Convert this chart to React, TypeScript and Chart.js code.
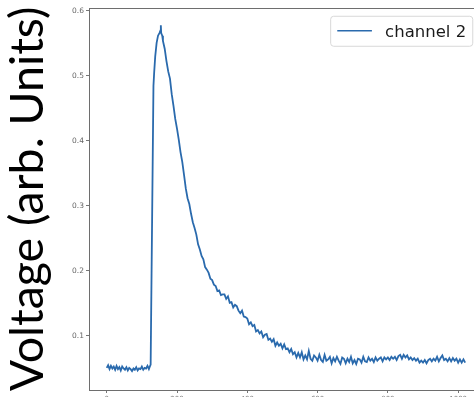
import { useEffect, useRef } from "react";
import { Chart, registerables } from "chart.js";

Chart.register(...registerables);

const seriesLabel = "channel 2";
const yAxisTitle = "Voltage (arb. Units)";
const xTicks = [0, 200, 400, 600, 800, 1000];
const yTicks = [0.1, 0.2, 0.3, 0.4, 0.5, 0.6];

const sampleIndex = [
  0, 4, 8, 12, 16, 20, 24, 28, 32, 36, 40, 44, 48, 52, 56, 60, 64, 68, 72, 76, 80, 84, 88, 92, 96, 100, 104, 108, 112, 116, 120, 122, 125,
  133, 135, 138, 142, 146, 150, 153, 154, 155, 158,
  160, 165, 170, 175, 180, 185, 190, 195, 200, 205, 210, 215, 220, 225, 230, 235, 240, 245, 250, 255, 260, 265, 270, 275, 280, 285, 290, 295, 300, 305, 310, 315, 320, 325, 330,
  335, 340, 345, 350, 355, 360, 365, 370, 375, 380, 385, 390, 395, 400, 405, 410, 415, 420, 425, 430, 435, 440, 445, 450, 455, 460, 465, 470, 475, 480, 485, 490, 495, 500, 505, 510, 515, 520, 525, 530, 535, 540,
  545, 550, 555, 560, 565, 570, 575, 580, 585, 590, 595, 600,
  605, 610, 615, 620, 625, 630, 635, 640, 645, 650, 655, 660, 665, 670, 675, 680, 685, 690, 695, 700,
  705, 710, 715, 720, 725, 730, 735, 740, 745, 750, 755, 760, 765, 770, 775, 780, 785, 790, 795, 800,
  805, 810, 815, 820, 825, 830, 835, 840, 845, 850, 855, 860, 865, 870, 875, 880, 885, 890, 895, 900,
  905, 910, 915, 920, 925, 930, 935, 940, 945, 950, 955, 960, 965, 970, 975, 980, 985, 990, 995, 1000,
  1005, 1010, 1015, 1020,
];

const voltage = [
  0.051, 0.055, 0.049, 0.054, 0.050, 0.053, 0.048, 0.054, 0.049, 0.052, 0.047, 0.053, 0.050, 0.048, 0.052, 0.047, 0.051, 0.049, 0.046, 0.050, 0.048, 0.052, 0.047, 0.050, 0.049, 0.053, 0.048, 0.051, 0.050, 0.054, 0.049, 0.052, 0.056,
  0.485, 0.505, 0.530, 0.551, 0.562, 0.566, 0.570, 0.578, 0.566, 0.562,
  0.554, 0.542, 0.523, 0.507, 0.496, 0.472, 0.454, 0.434, 0.419, 0.402, 0.383, 0.368, 0.348, 0.327, 0.312, 0.303, 0.288, 0.275, 0.266, 0.256, 0.241, 0.233, 0.223, 0.218, 0.206, 0.202, 0.197, 0.188, 0.186, 0.179, 0.177, 0.169, 0.170, 0.163, 0.164,
  0.164, 0.157, 0.161, 0.151, 0.152, 0.144, 0.148, 0.146, 0.139, 0.135, 0.139, 0.130, 0.129, 0.127, 0.118, 0.121, 0.115, 0.117, 0.107, 0.109, 0.104, 0.107, 0.098, 0.102, 0.103, 0.094, 0.096, 0.091, 0.095, 0.085, 0.090, 0.085, 0.088, 0.081, 0.087, 0.080, 0.081, 0.075, 0.080, 0.072, 0.075, 0.067,
  0.074, 0.067, 0.075, 0.064, 0.070, 0.064, 0.077, 0.065, 0.062, 0.070, 0.067, 0.062,
  0.071, 0.063, 0.060, 0.071, 0.062, 0.064, 0.068, 0.058, 0.066, 0.061, 0.068, 0.062, 0.057, 0.067, 0.065, 0.058, 0.065, 0.060, 0.068, 0.058,
  0.063, 0.057, 0.065, 0.064, 0.059, 0.068, 0.061, 0.060, 0.067, 0.062, 0.065, 0.060, 0.067, 0.062, 0.065, 0.067, 0.061, 0.067, 0.064, 0.067,
  0.063, 0.068, 0.065, 0.068, 0.063, 0.069, 0.071, 0.065, 0.071, 0.067, 0.070, 0.064, 0.067, 0.063, 0.066, 0.062, 0.065, 0.059, 0.062, 0.059,
  0.063, 0.058, 0.063, 0.065, 0.061, 0.065, 0.062, 0.068, 0.061, 0.066, 0.070, 0.063, 0.065, 0.061, 0.066, 0.061, 0.066, 0.062, 0.065, 0.059,
  0.064, 0.059, 0.064, 0.059,
];

const LINE_COLOR = "#2a6aad";
const CANVAS_W = 484;
const CANVAS_H = 410;

const frameLegendPlugin = {
  id: "frameLegend",
  afterDatasetsDraw(chart: any) {
    const { ctx, chartArea: a } = chart;
    ctx.save();
    ctx.strokeStyle = "#6e6e6e";
    ctx.lineWidth = 1;
    ctx.strokeRect(
      Math.round(a.left) + 0.5,
      Math.round(a.top) + 0.5,
      Math.round(a.right - a.left),
      Math.round(a.bottom - a.top)
    );

    const fs = 16.5;
    ctx.font = `${fs}px "DejaVu Sans"`;
    const label = chart.data.datasets[0].label as string;
    const tw = ctx.measureText(label).width;
    const pad = 0.4 * fs;
    const handle = 2.1 * fs;
    const gap = 0.8 * fs;
    const axpad = 0.5 * fs;
    const right = a.right - axpad;
    const top = a.top + axpad;
    const h = 30;
    const w = pad + handle + gap + tw + pad;
    const left = right - w;

    ctx.beginPath();
    const r = 3;
    ctx.moveTo(left + r, top);
    ctx.lineTo(left + w - r, top);
    ctx.arcTo(left + w, top, left + w, top + r, r);
    ctx.lineTo(left + w, top + h - r);
    ctx.arcTo(left + w, top + h, left + w - r, top + h, r);
    ctx.lineTo(left + r, top + h);
    ctx.arcTo(left, top + h, left, top + h - r, r);
    ctx.lineTo(left, top + r);
    ctx.arcTo(left, top, left + r, top, r);
    ctx.closePath();
    ctx.fillStyle = "rgba(255,255,255,0.85)";
    ctx.fill();
    ctx.strokeStyle = "#d8d8d8";
    ctx.stroke();

    ctx.beginPath();
    ctx.strokeStyle = LINE_COLOR;
    ctx.lineWidth = 1.5;
    ctx.moveTo(left + pad, top + 14.5);
    ctx.lineTo(left + pad + handle, top + 14.5);
    ctx.stroke();

    ctx.fillStyle = "#1a1a1a";
    ctx.textBaseline = "alphabetic";
    ctx.textAlign = "left";
    ctx.fillText(label, left + pad + handle + gap, top + 21);
    ctx.restore();
  },
};

export default function App() {
  const canvasRef = useRef<HTMLCanvasElement | null>(null);

  useEffect(() => {
    const canvas = canvasRef.current;
    if (!canvas) return;
    const points = sampleIndex.map((x, i) => ({ x, y: voltage[i] }));
    const chart = new Chart(canvas, {
      type: "line",
      data: {
        datasets: [
          {
            label: seriesLabel,
            data: points,
            borderColor: LINE_COLOR,
            borderWidth: 1.8,
            pointRadius: 0,
            tension: 0,
            fill: false,
          },
        ],
      },
      options: {
        animation: false,
        responsive: false,
        devicePixelRatio: 1,
        layout: { padding: { left: 0, right: 3, top: 8, bottom: 0 } },
        plugins: {
          legend: { display: false },
          tooltip: { enabled: false },
        },
        scales: {
          x: {
            type: "linear",
            min: -50.4,
            max: 1065,
            afterBuildTicks: (scale: any) => {
              scale.ticks = xTicks.map((v) => ({ value: v }));
            },
            afterFit: (scale: any) => {
              scale.height = 20;
            },
            border: { display: false },
            grid: {
              drawOnChartArea: false,
              drawTicks: true,
              tickLength: 3,
              color: "#777",
            },
            ticks: {
              autoSkip: false,
              maxRotation: 0,
              padding: 2,
              color: "#777",
              font: { size: 7, family: "DejaVu Sans" },
              callback: (v: any) => String(v),
            },
          },
          y: {
            type: "linear",
            min: 0.0169,
            max: 0.6046,
            afterBuildTicks: (scale: any) => {
              scale.ticks = yTicks.map((v) => ({ value: v }));
            },
            afterFit: (scale: any) => {
              scale.width = 89;
            },
            border: { display: false },
            grid: {
              drawOnChartArea: false,
              drawTicks: true,
              tickLength: 3,
              color: "#777",
            },
            ticks: {
              padding: 2,
              color: "#666",
              font: { size: 7.5, family: "DejaVu Sans" },
              callback: (v: any) => Number(v).toFixed(1),
            },
            title: {
              display: true,
              text: yAxisTitle,
              color: "#000",
              font: { size: 46.5, family: "Lato" },
              padding: { top: 0, bottom: 0 },
            },
          },
        },
      },
      plugins: [frameLegendPlugin],
    });
    return () => chart.destroy();
  }, []);

  return (
    <div
      style={{
        position: "absolute",
        left: 0,
        top: 0,
        width: 474,
        height: 397,
        overflow: "hidden",
        background: "#fff",
      }}
    >
      <canvas ref={canvasRef} width={CANVAS_W} height={CANVAS_H} style={{ display: "block" }} />
    </div>
  );
}
